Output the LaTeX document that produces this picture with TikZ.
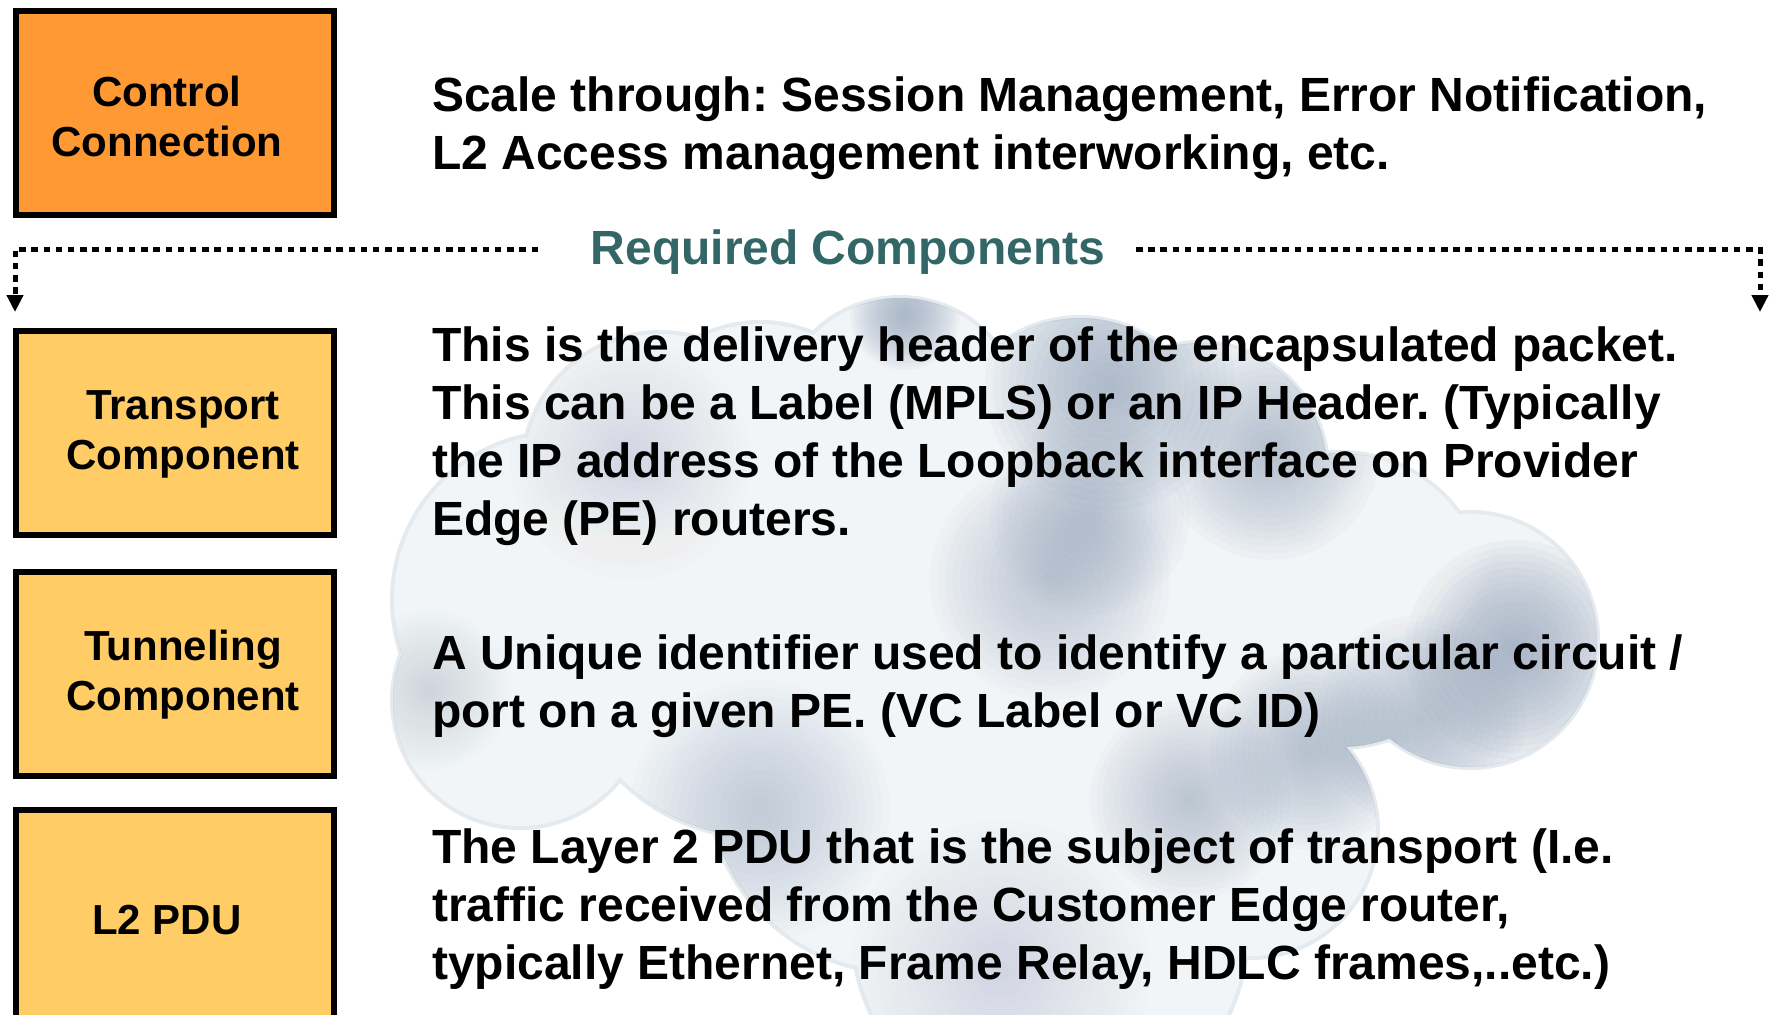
\documentclass[tikz,border=0pt]{standalone}
\usepackage{fontspec}
\setmainfont{Liberation Sans}
\usetikzlibrary{arrows.meta}

\definecolor{ctrlorange}{RGB}{255,153,51}
\definecolor{compyellow}{RGB}{255,204,102}
\definecolor{headteal}{RGB}{51,102,102}
\definecolor{cloudbase}{RGB}{242,245,247}
\definecolor{cloudrim}{RGB}{229,234,239}
\definecolor{cloudgrey}{RGB}{148,164,188}

% soft puff: stacked translucent discs that darken towards the middle
% #1 colour, #2 x, #3 y, #4 radius, #5 opacity of one layer
\newcommand\cloudpuff[5]{%
  \foreach \k in {1,...,16}{%
    \fill[#1, fill opacity=#5] (#2,#3) circle[radius=#4pt*\k/16];
  }}

% outline of the cloud as a union of circles, each shrunk by #1
\newcommand\cloudoutline[1]{%
  (900,420) circle[radius=125pt-#1]
  (760,460) circle[radius=140pt-#1]
  (1080,450) circle[radius=135pt-#1]
  (1200,470) circle[radius=130pt-#1]
  (660,470) circle[radius=140pt-#1]
  (560,600) circle[radius=170pt-#1]
  (520,700) circle[radius=130pt-#1]
  (760,640) circle[radius=200pt-#1]
  (1000,620) circle[radius=280pt-#1]
  (900,780) circle[radius=195pt-#1]
  (1340,600) circle[radius=150pt-#1]
  (1470,640) circle[radius=130pt-#1]
  (1250,830) circle[radius=130pt-#1]
  (1050,930) circle[radius=200pt-#1]}

\begin{document}
\begin{tikzpicture}[x=1pt,y=-1pt,
  compbox/.style={draw=black, line width=6pt, fill=compyellow,
    minimum width=318pt, minimum height=204pt, inner sep=0pt},
  boxlabel/.style={font=\fontsize{42}{50}\selectfont\bfseries,
    align=center, inner sep=0pt, anchor=north},
  desc/.style={font=\fontsize{48}{57.7}\selectfont\bfseries\frenchspacing,
    align=left, inner sep=0pt, anchor=north west},
  dotlink/.style={line width=5pt, dash pattern=on 6.5pt off 5.7pt,
    -{Triangle[length=17pt,width=16pt]}}]

\useasboundingbox (0,0) rectangle (1773,1015);
\fill[white] (0,0) rectangle (1773,1015);
\clip (0,0) rectangle (1773,1015);

% cloud behind the descriptions: faint rim, pale body, soft shadows
\fill[cloudrim] \cloudoutline{0pt};
\fill[cloudbase] \cloudoutline{4pt};
\begin{scope}
  \clip \cloudoutline{3pt};
  \cloudpuff{cloudgrey}{905}{315}{55}{0.07}
  \cloudpuff{cloudgrey}{630}{460}{120}{0.02}
  \cloudpuff{cloudgrey}{1110}{385}{125}{0.065}
  \cloudpuff{cloudgrey}{1270}{450}{110}{0.05}
  \cloudpuff{cloudgrey}{1090}{515}{100}{0.04}
  \cloudpuff{cloudgrey}{1050}{580}{120}{0.04}
  \cloudpuff{cloudgrey}{1515}{650}{110}{0.075}
  \cloudpuff{cloudgrey}{1420}{720}{105}{0.05}
  \cloudpuff{cloudgrey}{1310}{750}{100}{0.05}
  \cloudpuff{cloudgrey}{1190}{800}{100}{0.045}
  \cloudpuff{cloudgrey}{760}{810}{130}{0.035}
  \cloudpuff{cloudgrey}{430}{690}{80}{0.025}
  \cloudpuff{cloudgrey}{1000}{970}{150}{0.02}
  \cloudpuff{white}{620}{620}{140}{0.06}
  \cloudpuff{white}{860}{480}{110}{0.05}
  \cloudpuff{white}{1400}{560}{90}{0.05}
\end{scope}

% component boxes
\node[compbox, fill=ctrlorange] (ctrl) at (175,113) {};
\node[compbox] (transport) at (175,433) {};
\node[compbox] (tunnel) at (175,673.5) {};
\node[compbox, minimum height=230pt] (pdu) at (175,925) {};

\node[boxlabel] (ctrllabel) at (167,76) {Control\\Connection};
\node[boxlabel] (transportlabel) at (183,390) {Transport\\Component};
\node[boxlabel] (tunnellabel) at (183,630) {Tunneling\\Component};
\node[boxlabel] (pdulabel) at (167,905) {L2 PDU};

% heading with the dotted brackets
\node[font=\fontsize{48}{57.7}\selectfont\bfseries, text=headteal,
  anchor=base, inner sep=0pt] (req) at (848,264) {Required Components};
\coordinate (lstart) at (538,249);
\coordinate (ltip) at (15,312);
\coordinate (rstart) at (1136,249);
\coordinate (rtip) at (1760,312);
\draw[dotlink] (lstart) -| (ltip);
\draw[dotlink] (rstart) -| (rtip);

% descriptions
\node[desc] (scaletxt) at (432,77)
  {Scale through: Session Management, Error Notification,\\
   L2 Access management interworking, etc.};
\node[desc] (transporttxt) at (432,327)
  {This is the delivery header of the encapsulated packet.\\
   This can be a Label (MPLS) or an IP Header. (Typically\\
   the IP address of the Loopback interface on Provider\\
   Edge (PE) routers.};
\node[desc] (tunneltxt) at (432,635)
  {A Unique identifier used to identify a particular circuit /\\
   port on a given PE. (VC Label or VC ID)};
\node[desc] (pdutxt) at (432,829)
  {The Layer 2 PDU that is the subject of transport (I.e.\\
   traffic received from the Customer Edge router,\\
   typically Ethernet, Frame Relay, HDLC frames,..etc.)};
\end{tikzpicture}
\end{document}
